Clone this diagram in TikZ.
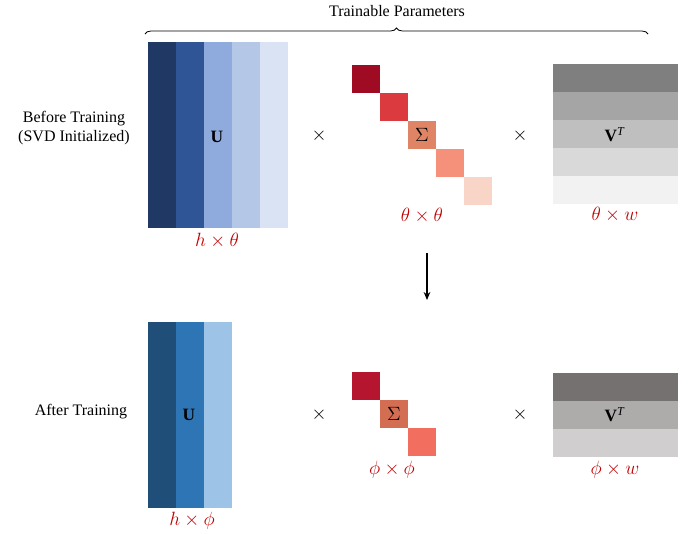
\documentclass[tikz,border=0pt]{standalone}
\usepackage{fontspec}
\setmainfont{Liberation Serif}
\usetikzlibrary{decorations.pathreplacing,arrows.meta}
\definecolor{ua}{HTML}{1F3864}
\definecolor{ub}{HTML}{2F5597}
\definecolor{uc}{HTML}{8FAADC}
\definecolor{ud}{HTML}{B4C7E7}
\definecolor{ue}{HTML}{DAE3F3}
\definecolor{ufa}{HTML}{1F4E79}
\definecolor{ufb}{HTML}{2E75B6}
\definecolor{ufc}{HTML}{9DC3E6}
\definecolor{sa}{HTML}{9E0B22}
\definecolor{sb}{HTML}{DB3A3E}
\definecolor{sc}{HTML}{DF8566}
\definecolor{sd}{HTML}{F5917A}
\definecolor{se}{HTML}{F9D5C8}
\definecolor{sfa}{HTML}{B5152F}
\definecolor{sfb}{HTML}{D46E52}
\definecolor{sfc}{HTML}{F26F60}
\definecolor{va}{HTML}{7F7F7F}
\definecolor{vb}{HTML}{A5A5A5}
\definecolor{vc}{HTML}{BFBFBF}
\definecolor{vd}{HTML}{D9D9D9}
\definecolor{ve}{HTML}{F2F2F2}
\definecolor{vfa}{HTML}{767171}
\definecolor{vfb}{HTML}{AEABAB}
\definecolor{vfc}{HTML}{D0CECE}
\definecolor{dimred}{HTML}{C00000}
\begin{document}
\begin{tikzpicture}[x=0.75pt,y=-0.75pt,
  txt/.style={font=\fontsize{12}{14}\selectfont, align=center, inner sep=0},
  dimlbl/.style={text=dimred, font=\fontsize{13.5}{15}\selectfont, inner sep=0},
  mname/.style={font=\fontsize{13}{15}\selectfont, inner sep=0},
  signame/.style={font=\fontsize{15}{17}\selectfont, inner sep=0},
  times/.style={font=\fontsize{15}{17}\selectfont, inner sep=0}]
\useasboundingbox (0,0) rectangle (697,533);
% title and brace
\node[txt] (title) at (397,11) {Trainable Parameters};
\coordinate (bl) at (145,34);
\coordinate (br) at (648,34);
\draw[decorate,decoration={brace,amplitude=4.5}, line width=0.6pt] (bl) -- (br);
% row labels
\node[txt] (before) at (74,128) {Before Training\\(SVD Initialized)};
\node[txt] (after) at (81,412) {After Training};
% ---- top U
\foreach \c [count=\i from 0] in {ua,ub,uc,ud,ue}
  \fill[\c] (148+28*\i,42) rectangle (176+28*\i,228);
\node[mname] (U1) at (217,137) {\textbf{U}};
\node[dimlbl] (d1) at (217,241) {$h\times\theta$};
\node[times] (x1) at (319,136) {$\times$};
% ---- top Sigma
\foreach \c [count=\i from 0] in {sa,sb,sc,sd,se}
  \fill[\c] (352+28*\i,65+28*\i) rectangle (380+28*\i,93+28*\i);
\node[signame] (S1) at (422,135) {$\Sigma$};
\node[dimlbl] (d2) at (422,216) {$\theta\times\theta$};
\node[times] (x2) at (520,136) {$\times$};
% ---- top V
\foreach \c [count=\i from 0] in {va,vb,vc,vd,ve}
  \fill[\c] (553,64+28*\i) rectangle (678,92+28*\i);
\node[mname] (V1) at (615,135) {\textbf{V}\textsuperscript{\textit{T}}};
\node[dimlbl] (d3) at (615,215) {$\theta\times w$};
% arrow
\coordinate (a1) at (427,253);
\coordinate (a2) at (427,300);
\draw[-{Stealth[length=6pt,width=5pt]}, line width=0.8pt] (a1) -- (a2);
% ---- bottom U
\foreach \c [count=\i from 0] in {ufa,ufb,ufc}
  \fill[\c] (148+28*\i,322) rectangle (176+28*\i,508);
\node[mname] (U2) at (189,415) {\textbf{U}};
\node[dimlbl] (d4) at (192,521) {$h\times\phi$};
\node[times] (x3) at (319,415) {$\times$};
% ---- bottom Sigma
\foreach \c [count=\i from 0] in {sfa,sfb,sfc}
  \fill[\c] (352+28*\i,372+28*\i) rectangle (380+28*\i,400+28*\i);
\node[signame] (S2) at (394,414) {$\Sigma$};
\node[dimlbl] (d5) at (392,470) {$\phi\times\phi$};
\node[times] (x4) at (520,415) {$\times$};
% ---- bottom V
\foreach \c [count=\i from 0] in {vfa,vfb,vfc}
  \fill[\c] (553,373+28*\i) rectangle (678,401+28*\i);
\node[mname] (V2) at (615,415) {\textbf{V}\textsuperscript{\textit{T}}};
\node[dimlbl] (d6) at (615,470) {$\phi\times w$};
\end{tikzpicture}
\end{document}
